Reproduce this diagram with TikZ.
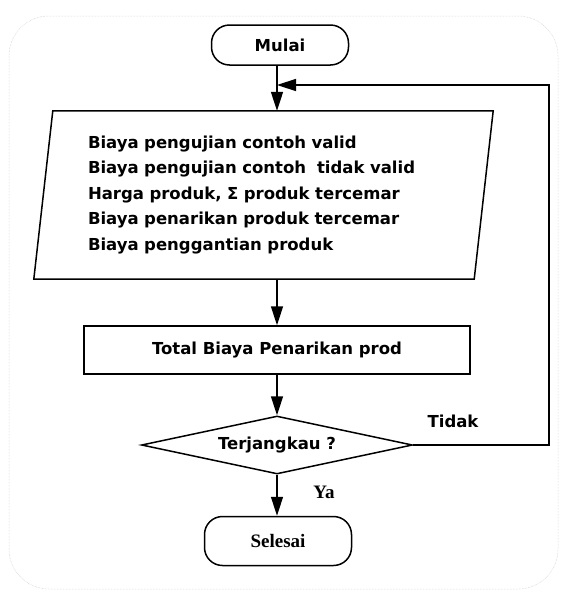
\documentclass[tikz,border=0pt]{standalone}
\usepackage{fontspec}
\setmainfont{DejaVu Sans}
\newfontfamily\serifbf{Liberation Serif}
\usetikzlibrary{shapes.geometric,arrows.meta}
\begin{document}
\begin{tikzpicture}[x=1pt,y=-1pt,
  every node/.style={font=\bfseries\fontsize{16.5}{25.5}\selectfont},
  line/.style={line width=1.5pt},
  arr/.style={line width=1.5pt,-{Triangle[length=19pt,width=12pt]}},
  term/.style={draw,line width=1.5pt,rounded corners=18pt,inner sep=0pt},
  procbox/.style={draw,line width=1.5pt,inner sep=0pt,minimum width=386pt,minimum height=48pt},
  decide/.style={draw,line width=1.5pt,diamond,shape aspect=4.67,inner sep=0pt,minimum width=271pt,minimum height=58pt},
  lbl/.style={inner sep=0pt},
  serifl/.style={font=\serifbf\bfseries\fontsize{19}{22}\selectfont}
]
\useasboundingbox (0,0) rectangle (563,592);
\draw[gray!45,densely dotted,line width=0.5pt,rounded corners=40pt] (9,16) rectangle (558,589);

\node[term,minimum width=137pt,minimum height=40pt] (mulai) at (280,45) {Mulai};

\node[inner ysep=0pt,inner xsep=54pt,text width=351pt,minimum height=168pt,align=left] (in) at (263.5,195)
 {Biaya pengujian contoh valid\\
  Biaya pengujian contoh\ \ tidak valid\\
  Harga produk, Σ produk tercemar\\
  Biaya penarikan produk tercemar\\
  Biaya penggantian produk};
\draw[line,line join=miter] ([xshift=19pt]in.north west) -- (in.north east) -- ([xshift=-19pt]in.south east) -- (in.south west) -- cycle;

\node[procbox] (tot) at (277,350) {Total Biaya Penarikan prod};
\node[decide] (dia) at (277,445) {Terjangkau ?};
\node[term,serifl,minimum width=147pt,minimum height=49pt] (sel) at (278,541) {Selesai};

\coordinate (join) at (277,85);
\coordinate (loopc) at (549,85);

\draw[arr] (mulai.south -| join) -- (join |- in.north);
\draw[arr] (dia.east) -| (loopc) -- (join);
\draw[arr] (join |- in.south) -- (tot.north);
\draw[arr] (tot.south) -- (dia.north);
\draw[arr] (dia.south) -- (sel.north -| dia.south);

\node[lbl] (tidak) at (453,421) {Tidak};
\node[lbl,serifl] (ya) at (324,492) {Ya};
\end{tikzpicture}
\end{document}
